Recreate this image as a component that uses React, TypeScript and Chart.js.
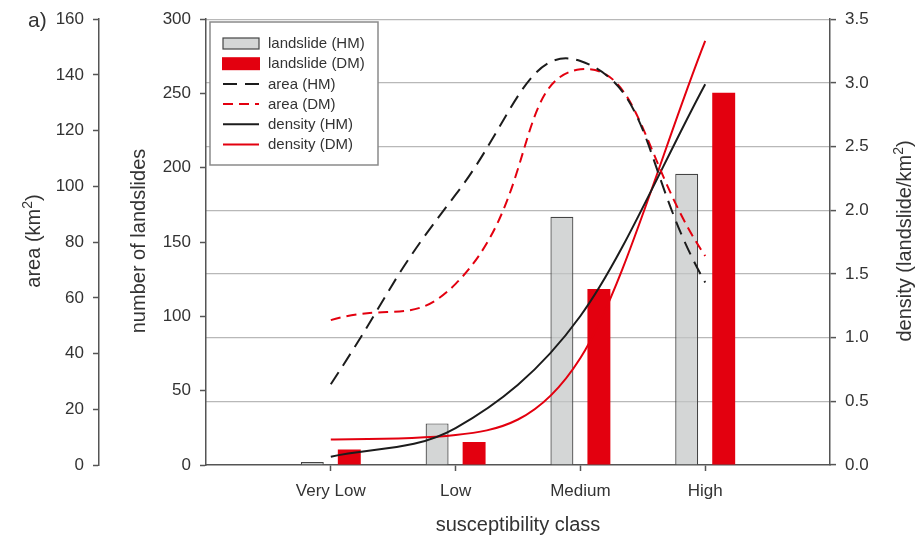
import React, { useEffect, useRef } from 'react';
import { Chart, registerables } from 'chart.js';

Chart.register(...registerables);

const categories = ['Very Low', 'Low', 'Medium', 'High'];
const landslideHM = [2, 28, 167, 196];
const landslideDM = [10.5, 15.5, 118.5, 250.5];
const areaHM = [29, 97, 145, 65.5];
const areaDM = [52, 65, 142, 75];
const densityHM = [0.065, 0.29, 1.17, 2.99];
const densityDM = [0.2, 0.235, 0.84, 3.33];
const areaTicks = [0, 20, 40, 60, 80, 100, 120, 140, 160];
const landslideTicks = [0, 50, 100, 150, 200, 250, 300];
const densityTicks = [0, 0.5, 1, 1.5, 2, 2.5, 3, 3.5];
const legendLabels = ['landslide (HM)', 'landslide (DM)', 'area (HM)', 'area (DM)', 'density (HM)', 'density (DM)'];

const FONT = '"Liberation Sans", Arial, Helvetica, sans-serif';
const TEXT = '#333333';
const AXIS = '#555555';
const GRID = '#b8b8b8';
const RED = '#e3000f';
const BLACK = '#1c1c1c';
const GRAY_FILL = 'rgba(196,198,198,0.72)';

const pts = (vals: number[]) => vals.map((v, i) => ({ x: i + 1, y: v }));

function richRotated(ctx: CanvasRenderingContext2D, x: number, y: number, parts: { t: string; s: number; dy: number }[]) {
  ctx.save();
  ctx.translate(x, y);
  ctx.rotate(-Math.PI / 2);
  ctx.textAlign = 'left';
  ctx.textBaseline = 'alphabetic';
  let total = 0;
  const widths = parts.map((p) => {
    ctx.font = `${p.s}px ${FONT}`;
    const w = ctx.measureText(p.t).width;
    total += w;
    return w;
  });
  let cx = -total / 2;
  parts.forEach((p, i) => {
    ctx.font = `${p.s}px ${FONT}`;
    ctx.fillText(p.t, cx, p.dy);
    cx += widths[i];
  });
  ctx.restore();
}

const decorPlugin = {
  id: 'decor',
  afterDraw(chart: any) {
    const ctx: CanvasRenderingContext2D = chart.ctx;
    ctx.save();
    ctx.fillStyle = TEXT;
    ctx.font = `21px ${FONT}`;
    ctx.textAlign = 'left';
    ctx.textBaseline = 'alphabetic';
    ctx.fillText('a)', 28, 27);

    ctx.font = `20px ${FONT}`;
    ctx.textAlign = 'center';
    ctx.fillText('susceptibility class', 518, 531);

    richRotated(ctx, 40, 241, [
      { t: 'area (km', s: 20, dy: 0 },
      { t: '2', s: 14, dy: -8 },
      { t: ')', s: 20, dy: 0 },
    ]);
    richRotated(ctx, 145, 241, [{ t: 'number of landslides', s: 20, dy: 0 }]);
    richRotated(ctx, 911, 241, [
      { t: 'density (landslide/km', s: 20, dy: 0 },
      { t: '2', s: 14, dy: -8 },
      { t: ')', s: 20, dy: 0 },
    ]);

    // legend
    const lx = 210, ly = 22, lw = 168, lh = 143;
    ctx.fillStyle = '#ffffff';
    ctx.fillRect(lx, ly, lw, lh);
    ctx.strokeStyle = '#8a8a8a';
    ctx.lineWidth = 1.5;
    ctx.setLineDash([]);
    ctx.strokeRect(lx, ly, lw, lh);
    const ds = chart.data.datasets;
    ctx.font = `15px ${FONT}`;
    ctx.textAlign = 'left';
    ctx.textBaseline = 'middle';
    legendLabels.forEach((label, i) => {
      const y = 43.5 + i * 20.2;
      const d = ds[i];
      if (d.type === 'bar' || !d.type) {
        if (i === 0) {
          ctx.fillStyle = GRAY_FILL;
          ctx.fillRect(223, y - 5.5, 36, 11);
          ctx.strokeStyle = '#444';
          ctx.lineWidth = 1.2;
          ctx.strokeRect(223, y - 5.5, 36, 11);
        } else {
          ctx.fillStyle = d.backgroundColor;
          ctx.fillRect(222, y - 6.5, 38, 13);
        }
      } else {
        ctx.strokeStyle = d.borderColor;
        ctx.lineWidth = d.borderWidth;
        ctx.setLineDash(d.borderDash || []);
        ctx.beginPath();
        ctx.moveTo(223, y);
        ctx.lineTo(259, y);
        ctx.stroke();
        ctx.setLineDash([]);
      }
      ctx.fillStyle = TEXT;
      ctx.fillText(label, 268, y + 0.5);
    });
    ctx.restore();
  },
};

function axis(extra: any) {
  return {
    border: { display: true, color: AXIS, width: 1.5 },
    grid: { drawOnChartArea: false, drawTicks: true, tickLength: 6, tickColor: AXIS, tickWidth: 1.5 },
    ticks: { color: TEXT, font: { family: FONT, size: 17 }, padding: 9, autoSkip: false, maxRotation: 0 },
    ...extra,
  };
}

export default function App() {
  const ref = useRef<HTMLCanvasElement | null>(null);
  useEffect(() => {
    if (!ref.current) return;
    const chart = new Chart(ref.current, {
      type: 'bar',
      data: {
        datasets: [
          {
            type: 'bar',
            label: legendLabels[0],
            data: pts(landslideHM),
            yAxisID: 'yL',
            backgroundColor: GRAY_FILL,
            borderColor: '#444444',
            borderWidth: 1.2,
            order: 1,
            categoryPercentage: 0.593,
            barPercentage: 0.62,
          },
          {
            type: 'bar',
            label: legendLabels[1],
            data: pts(landslideDM),
            yAxisID: 'yL',
            backgroundColor: RED,
            borderWidth: 0,
            order: 1,
            categoryPercentage: 0.593,
            barPercentage: 0.62,
          },
          {
            type: 'line',
            label: legendLabels[2],
            data: pts(areaHM),
            yAxisID: 'yA',
            borderColor: BLACK,
            borderWidth: 2,
            borderDash: [14, 8],
            tension: 0.5,
            pointRadius: 0,
            fill: false,
            order: 0,
          },
          {
            type: 'line',
            label: legendLabels[3],
            data: pts(areaDM),
            yAxisID: 'yA',
            borderColor: RED,
            borderWidth: 2,
            borderDash: [10, 6],
            tension: 0.5,
            pointRadius: 0,
            fill: false,
            order: 0,
          },
          {
            type: 'line',
            label: legendLabels[4],
            data: pts(densityHM),
            yAxisID: 'yD',
            borderColor: BLACK,
            borderWidth: 2,
            cubicInterpolationMode: 'monotone',
            pointRadius: 0,
            fill: false,
            order: 0,
          },
          {
            type: 'line',
            label: legendLabels[5],
            data: pts(densityDM),
            yAxisID: 'yD',
            borderColor: RED,
            borderWidth: 2,
            cubicInterpolationMode: 'monotone',
            pointRadius: 0,
            fill: false,
            order: 0,
          },
        ] as any,
      },
      options: {
        animation: false,
        responsive: true,
        maintainAspectRatio: false,
        layout: { padding: { top: 17, left: 0, right: 0, bottom: 0 } },
        plugins: { legend: { display: false }, tooltip: { enabled: false } },
        scales: {
          x: axis({
            type: 'linear',
            position: 'bottom',
            min: 0,
            max: 5,
            offset: false,
            grid: { offset: false, drawOnChartArea: false, drawTicks: true, tickLength: 6, tickColor: AXIS, tickWidth: 1.5 },
            ticks: {
              color: TEXT,
              font: { family: FONT, size: 17 },
              padding: 10,
              autoSkip: false,
              maxRotation: 0,
              callback: (v: any) => categories[Number(v) - 1] ?? '',
            },
            afterBuildTicks: (s: any) => {
              s.ticks = categories.map((_, i) => ({ value: i + 1 }));
            },
            afterFit: (s: any) => {
              s.height = 73;
            },
          }),
          yA: axis({
            type: 'linear',
            position: 'left',
            weight: 2,
            min: 0,
            max: 160,
            afterBuildTicks: (s: any) => {
              s.ticks = areaTicks.map((v) => ({ value: v }));
            },
            afterFit: (s: any) => {
              s.width = 99;
            },
          }),
          yL: axis({
            type: 'linear',
            position: 'left',
            weight: 1,
            min: 0,
            max: 300,
            afterBuildTicks: (s: any) => {
              s.ticks = landslideTicks.map((v) => ({ value: v }));
            },
            afterFit: (s: any) => {
              s.width = 107;
            },
          }),
          yD: axis({
            type: 'linear',
            position: 'right',
            min: 0,
            max: 3.5,
            grid: {
              drawOnChartArea: true,
              drawTicks: true,
              tickLength: 6,
              tickColor: AXIS,
              tickWidth: 1.5,
              lineWidth: 1.2,
              color: (c: any) => (c.tick && c.tick.value === 0 ? 'rgba(0,0,0,0)' : GRID),
            },
            ticks: {
              color: TEXT,
              font: { family: FONT, size: 17 },
              padding: 9,
              autoSkip: false,
              callback: (v: any) => Number(v).toFixed(1),
            },
            afterBuildTicks: (s: any) => {
              s.ticks = densityTicks.map((v) => ({ value: v }));
            },
            afterFit: (s: any) => {
              s.width = 88;
            },
          }),
        },
      } as any,
      plugins: [decorPlugin],
    });
    return () => chart.destroy();
  }, []);

  return (
    <div style={{ position: 'absolute', left: 0, top: 0, width: 918, height: 538, background: '#fff' }}>
      <canvas ref={ref} />
    </div>
  );
}
